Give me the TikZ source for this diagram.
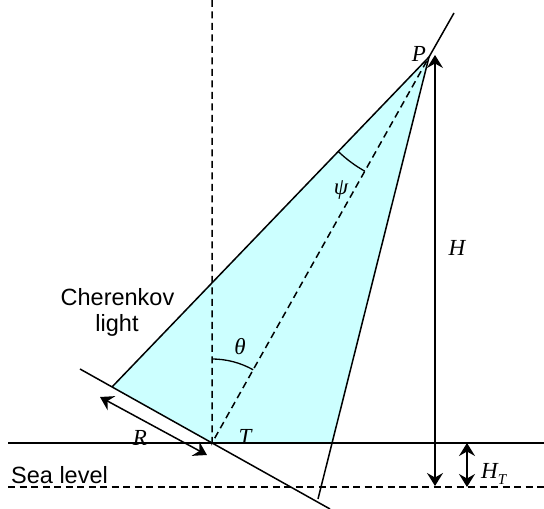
\documentclass[tikz,border=0pt]{standalone}
\usepackage{fontspec}
\setmainfont{Liberation Sans}
\newfontfamily\tms{Liberation Serif}
\usetikzlibrary{arrows.meta,angles}
\begin{document}
\begin{tikzpicture}[x=1pt,y=1pt,
  line/.style={line width=1.5pt},
  dashline/.style={line width=1.5pt, dash pattern=on 7pt off 4.5pt},
  dim/.style={line width=1.5pt, {Stealth[length=13pt,width=16pt,inset=4.5pt]}-{Stealth[length=13pt,width=16pt,inset=4.5pt]}},
  cone/.style={fill={rgb,255:red,204;green,255;blue,255}},
  anglemark/.style={draw, line width=1.3pt},
  lbl/.style={inner sep=0pt, font=\tms\itshape\fontsize{23}{23}\selectfont},
  txt/.style={inner sep=0pt, font=\fontsize{23.5}{26}\selectfont}]
\useasboundingbox (0,0) rectangle (544,509);
\coordinate (P) at (429,452);
\coordinate (T) at (212,66);
\coordinate (L) at (112,122);
\coordinate (G) at (332,66);
\coordinate (B) at (318,10);
\coordinate (U) at (454,496);
\coordinate (V) at (212,509);
\coordinate (TL) at (80,140);
\coordinate (TR) at (330,0);
\coordinate (GL) at (8,66);
\coordinate (GR) at (544,66);
\coordinate (SL) at (8,22);
\coordinate (SR) at (544,22);
\coordinate (Ra) at (100,112);
\coordinate (Rb) at (207,54);
\coordinate (Ht) at (435,454);
\coordinate (Hb) at (435,23);
\coordinate (HTt) at (467,66);
\coordinate (HTb) at (467,22);

\fill[cone] (P) -- (L) -- (T) -- (G) -- cycle;
\draw[dashline] (V) -- (T) -- (P);
\draw[dashline] (SL) -- (SR);
\draw[line] (GL) -- (GR);
\draw[line] (TL) -- (TR);
\draw[line] (L) -- (P) -- (U);
\draw[line] (P) -- (B);
\draw[dim] (Ra) -- (Rb);
\draw[dim] (Hb) -- (Ht);
\draw[dim] (HTb) -- (HTt);
\pic[anglemark, angle radius=131pt] {angle=L--P--T};
\pic[anglemark, angle radius=84pt] {angle=P--T--V};

\node[lbl] (lP) at (419,455) {P};
\node[lbl] (lH) at (457,261) {H};
\node[lbl] (lR) at (140,71) {R};
\node[lbl] (lT) at (245,72) {T};
\node[lbl] (lth) at (240,162) {θ};
\node[lbl] (lpsi) at (341,319) {ψ};
\node[lbl, anchor=base west] (lHT) at (481,30) {H\raisebox{-0.22em}{\fontsize{15}{15}\selectfont T}};
\node[txt, anchor=base] (c1) at (117.5,203) {Cherenkov};
\node[txt, anchor=base] (c2) at (117,177) {light};
\node[txt, anchor=base west] (sl) at (11,25) {Sea level};
\end{tikzpicture}
\end{document}
